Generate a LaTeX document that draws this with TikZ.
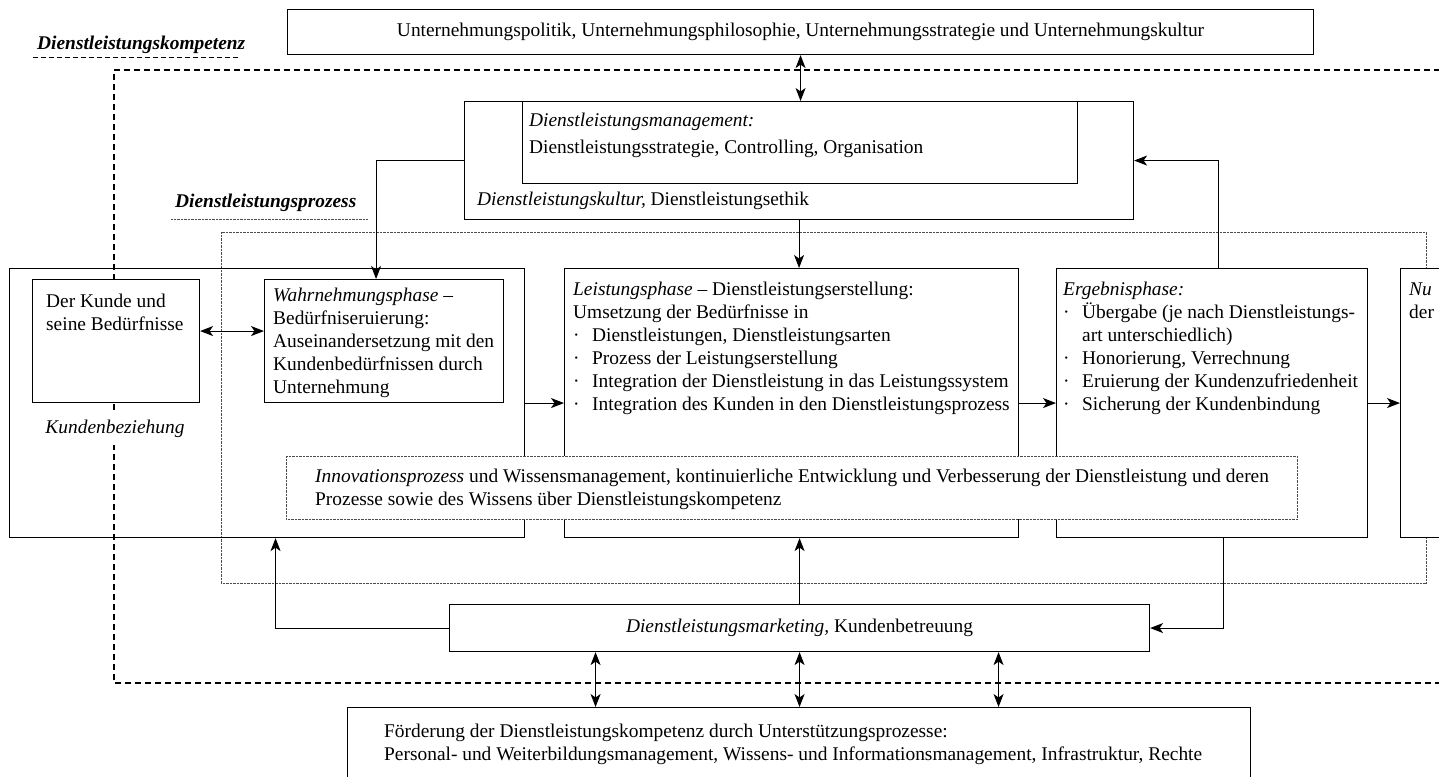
\documentclass[tikz,border=0pt]{standalone}
\usepackage{fontspec}
\setmainfont{Liberation Serif}
\usetikzlibrary{arrows.meta}

\newcommand\bodyfont{\fontsize{19.4}{23}\selectfont}
\newcommand\bul{\makebox[19pt][l]{·}}

\begin{document}
\begin{tikzpicture}[x=1pt, y=-1pt, font=\bodyfont,
        box/.style = {shape=rectangle, draw, fill=white, anchor=north west,
          inner sep=0pt, line width=1.1pt},
        dotbox/.style = {box, line width=0.7pt, draw=black!70,
          dash pattern=on 0.7pt off 0.7pt},
        txt/.style = {anchor=north west, inner sep=0pt, align=left},
        headline/.style = {anchor=base west, inner sep=0pt,
          font=\bodyfont\bfseries\itshape},
        arr/.style = {line width=1pt, -{Stealth[length=13pt, width=10pt, inset=3.5pt]}},
        dblarr/.style = {line width=1pt,
          {Stealth[length=13pt, width=10pt, inset=3.5pt]}-{Stealth[length=13pt, width=10pt, inset=3.5pt]}},
        bigdash/.style = {line width=1.6pt, dash pattern=on 6pt off 4pt},
        fine/.style = {line width=0.7pt, draw=black!70, dash pattern=on 0.7pt off 0.7pt}]
    \useasboundingbox (0,0) rectangle (1439,776);
    \clip (0,0) rectangle (1439,776);

    % frames
    \draw[bigdash] (1450,70) -| (114,683) -- (1450,683);
    \draw[fine] (221,232) rectangle (1426,583);

    \node[headline] (kompetenz) at (37,50) {Dienstleistungskompetenz};
    \draw[line width=1pt, dash pattern=on 5pt off 3pt]
        ([shift={(-4,8)}]kompetenz.base west) -- ([shift={(-5,8)}]kompetenz.base east);
    \node[headline] (prozess) at (175,207) {Dienstleistungsprozess};
    \draw[fine] ([shift={(-4,12)}]prozess.base west) -- ([shift={(11,12)}]prozess.base east);

    \node[box, minimum width=1026pt, minimum height=45pt] (unternehmung) at (287,9)
        {\strut Unternehmungspolitik, Unternehmungsphilosophie, Unternehmungsstrategie und Unternehmungskultur};

    \node[box, minimum width=669pt, minimum height=118pt] (mgmt) at (464,101) {};
    \node[box, minimum width=555pt, minimum height=82pt] (mgmtcore) at (522,101) {};
    \node[txt] (mgmttxt) at (529,110)
        {\strut\textit{Dienstleistungsmanagement:}\\[4pt]Dienstleistungsstrategie, Controlling, Organisation};
    \node[anchor=base west, inner sep=0pt] (kultur) at (477,205)
        {\textit{Dienstleistungskultur,} Dienstleistungsethik};

    \node[box, fill=none, minimum width=515pt, minimum height=269pt] (kundenbez) at (9,268) {};
    \node[box, minimum width=167pt, minimum height=123pt] (kunde) at (32,279) {};
    \node[txt] (kundetxt) at (46,291) {\strut Der Kunde und\\seine Bedürfnisse};
    \node[fill=white, inner xsep=2pt, inner ysep=8pt, anchor=base] (kbtxt) at (115,433)
        {\textit{Kundenbeziehung}};

    \node[box, minimum width=239pt, minimum height=123pt] (wahrn) at (264,279) {};
    \node[txt] (wahrntxt) at (273,285)
        {\strut\textit{Wahrnehmungsphase} –\\Bedürfniseruierung:\\Auseinandersetzung mit den\\Kundenbedürfnissen durch\\Unternehmung};

    \node[box, minimum width=454pt, minimum height=269pt] (leist) at (564,268) {};
    \node[txt] (leisttxt) at (573,279)
        {\strut\textit{Leistungsphase} – Dienstleistungserstellung:\\
         Umsetzung der Bedürfnisse in\\
         \bul Dienstleistungen, Dienstleistungsarten\\
         \bul Prozess der Leistungserstellung\\
         \bul Integration der Dienstleistung in das Leistungssystem\\
         \bul Integration des Kunden in den Dienstleistungsprozess};

    \node[box, minimum width=311pt, minimum height=269pt] (ergeb) at (1056,268) {};
    \node[txt] (ergebtxt) at (1063,279)
        {\strut\textit{Ergebnisphase:}\\
         \bul Übergabe (je nach Dienstleistungs-\\
         \hspace*{19pt}art unterschiedlich)\\
         \bul Honorierung, Verrechnung\\
         \bul Eruierung der Kundenzufriedenheit\\
         \bul Sicherung der Kundenbindung};

    \node[box, minimum width=200pt, minimum height=269pt] (nutzen) at (1400,268) {};
    \node[txt] (nutzentxt) at (1409,279) {\strut\textit{Nu}\\der};

    \node[dotbox, minimum width=1011pt, minimum height=63pt] (innov) at (286,456) {};
    \node[txt] (innovtxt) at (315,466)
        {\strut\textit{Innovationsprozess} und Wissensmanagement, kontinuierliche Entwicklung und Verbesserung der Dienstleistung und deren\\
         Prozesse sowie des Wissens über Dienstleistungskompetenz};

    \node[box, minimum width=700pt, minimum height=47pt] (marketing) at (449,604)
        {\strut\textit{Dienstleistungsmarketing,} Kundenbetreuung};

    \node[box, minimum width=903pt, minimum height=75pt] (foerd) at (347,707) {};
    \node[txt] (foerdtxt) at (384,721)
        {\strut Förderung der Dienstleistungskompetenz durch Unterstützungsprozesse:\\
         Personal- und Weiterbildungsmanagement, Wissens- und Informationsmanagement, Infrastruktur, Rechte};

    % connectors
    \draw[dblarr] (unternehmung.south) -- (unternehmung.south |- mgmt.north);
    \draw[arr] (mgmt.west) -| ([xshift=-8pt]wahrn.north);
    \draw[arr] (mgmt.south) -- (mgmt.south |- leist.north);
    \draw[arr] ([xshift=6pt]ergeb.north) |- (mgmt.east);
    \draw[dblarr] ([yshift=10pt]kunde.east) -- ([yshift=10pt]wahrn.west);
    \draw[arr] (kundenbez.east) -- (leist.west);
    \draw[arr] (leist.east) -- (ergeb.west);
    \draw[arr] (ergeb.east) -- (nutzen.west);
    \draw[arr] (marketing.west) -| ([xshift=8.5pt]kundenbez.south);
    \draw[arr] (marketing.north) -- (marketing.north |- leist.south);
    \draw[arr] ([xshift=11.5pt]ergeb.south) |- (marketing.east);
    \foreach \dx in {-204,0,199}
        \draw[dblarr] ([xshift=\dx pt]marketing.south) -- ([xshift=\dx pt]marketing.south |- foerd.north);
\end{tikzpicture}
\end{document}
